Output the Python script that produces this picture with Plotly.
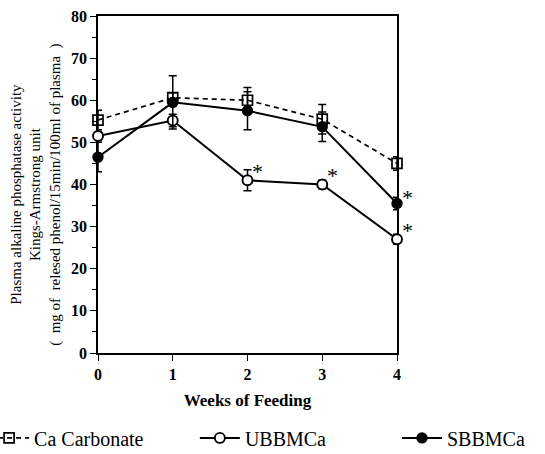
import plotly.graph_objects as go

weeks = [0, 1, 2, 3, 4]

ca_carbonate = [55.3, 60.6, 60.0, 55.5, 45.0]
ca_carbonate_err = [2.3, 1.2, 3.0, 3.5, 1.6]

ubbmca = [51.5, 55.2, 41.0, 40.0, 27.0]
ubbmca_err = [1.0, 1.5, 2.5, 1.0, 1.2]

sbbmca = [46.5, 59.5, 57.5, 53.7, 35.5]
sbbmca_err = [3.5, 6.3, 4.5, 3.5, 1.5]

# week indices marked significant (*)
stars_ubb = [2, 3, 4]
stars_sbb = [4]

NB = "\u00a0"
y_title_lines = [
    "Plasma alkaline phosphatase activity",
    "Kings-Armstrong unit",
    "(" + NB * 2 + "mg of" + NB * 2 + "relesed phenol/15min/100ml of plasma" + NB * 2 + ")",
]
x_title = "Weeks of Feeding"

FONT = "Liberation Serif"

fig = go.Figure()

def err(vals):
    return dict(type="data", array=vals, visible=True, color="black",
                thickness=1.5, width=4)

fig.add_trace(go.Scatter(
    x=weeks, y=ca_carbonate, name="Ca Carbonate", mode="lines+markers",
    line=dict(color="black", width=1.7, dash="5px,4px"),
    marker=dict(symbol="square-open", size=10, color="black",
                line=dict(width=1.7)),
    error_y=err(ca_carbonate_err), cliponaxis=False, legend="legend",
))
fig.add_trace(go.Scatter(
    x=weeks, y=ubbmca, name="UBBMCa", mode="lines+markers",
    line=dict(color="black", width=2),
    marker=dict(symbol="circle", size=10, color="white",
                line=dict(width=1.9, color="black")),
    error_y=err(ubbmca_err), cliponaxis=False, legend="legend2",
))
fig.add_trace(go.Scatter(
    x=weeks, y=sbbmca, name="SBBMCa", mode="lines+markers",
    line=dict(color="black", width=2),
    marker=dict(symbol="circle", size=10, color="black",
                line=dict(width=1.4, color="black")),
    error_y=err(sbbmca_err), cliponaxis=False, legend="legend3",
))

annotations = []
for i in stars_ubb:
    annotations.append(dict(x=weeks[i], y=ubbmca[i], text="*", showarrow=False,
                            xshift=10, yshift=9,
                            font=dict(family=FONT, size=22, color="black")))
for i in stars_sbb:
    annotations.append(dict(x=weeks[i], y=sbbmca[i], text="*", showarrow=False,
                            xshift=10, yshift=6,
                            font=dict(family=FONT, size=22, color="black")))

# y-axis title (three lines, rotated)
annotations.append(dict(
    text="<br>".join(y_title_lines), xref="paper", yref="paper",
    x=-0.21, y=0.47, xanchor="center", yanchor="middle",
    textangle=-90, showarrow=False,
    font=dict(family=FONT, size=15, color="black"),
))

axis_common = dict(
    showline=True, linecolor="black", linewidth=1.6, mirror=True,
    ticks="outside", tickcolor="black", tickwidth=1.4,
    showgrid=False, zeroline=False, layer="below traces",
    tickfont=dict(family=FONT, size=16, color="black", weight="bold"),
)

legend_common = dict(orientation="h", y=-0.252, yanchor="middle",
                     xanchor="left", itemwidth=40,
                     font=dict(family=FONT, size=20, color="black"),
                     bgcolor="rgba(0,0,0,0)")

fig.update_layout(
    width=545, height=454,
    margin=dict(l=98, r=148, t=16, b=101, autoexpand=False),
    paper_bgcolor="white", plot_bgcolor="white",
    font=dict(family=FONT, color="black"),
    xaxis=dict(range=[0, 4], dtick=1, tick0=0, ticklen=6,
               title=dict(text=x_title, standoff=12,
                          font=dict(family=FONT, size=17, weight="bold")),
               **axis_common),
    yaxis=dict(range=[0, 80], dtick=10, tick0=0, ticklen=6,
               minor=dict(dtick=5, ticks="outside", ticklen=4,
                          tickcolor="black", tickwidth=1.2),
               **axis_common),
    showlegend=True,
    legend=dict(x=-0.381, **legend_common),
    legend2=dict(x=0.324, **legend_common),
    legend3=dict(x=1.0, **legend_common),
    annotations=annotations,
)

fig.write_html("out.html")
